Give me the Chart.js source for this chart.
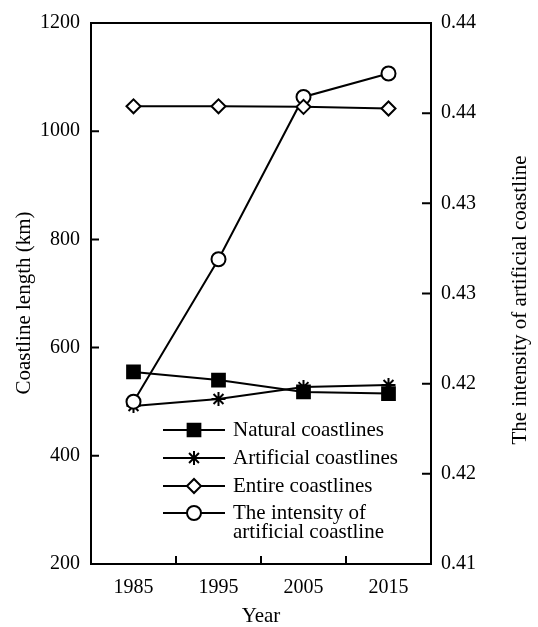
<!DOCTYPE html>
<html>
<head>
<meta charset="utf-8">
<script src="https://cdn.jsdelivr.net/npm/chart.js@4/dist/chart.umd.min.js"></script>
<style>
  html, body { margin: 0; padding: 0; background: #fff; }
  #wrap { width: 538px; height: 627px; }
</style>
</head>
<body>
<div id="wrap"><canvas id="coastChart" width="538" height="627"></canvas></div>
<script>
// data
const years = ['1985', '1995', '2005', '2015'];
const naturalKm = [555, 540, 518, 515];
const artificialKm = [492, 505, 527, 531];
const entireKm = [1046, 1046, 1045, 1042];
const intensity = [0.4190, 0.4269, 0.4359, 0.4372];

const lengthMin = 200, lengthMax = 1200, lengthStep = 200;
const intensityMin = 0.41, intensityMax = 0.44, intensityStep = 0.005;

const legendLabels = [
    ['Natural coastlines'],
    ['Artificial coastlines'],
    ['Entire coastlines'],
    ['The intensity of', 'artificial coastline']
];

const serif = '"Liberation Serif", "Times New Roman", serif';
const tickFont = { family: serif, size: 20 };
const textFont = '21px ' + serif;

function verticalText(ctx, text, x, y) {
    ctx.save();
    ctx.translate(x, y);
    ctx.rotate(-Math.PI / 2);
    ctx.fillText(text, 0, 0);
    ctx.restore();
}

// frame, inward tick marks, axis titles and legend
const decorPlugin = {
    id: 'decor',
    afterDraw(chart) {
        const ctx = chart.ctx;
        const a = chart.chartArea;
        const sx = chart.scales.x, sy = chart.scales.y, sy1 = chart.scales.y1;
        ctx.save();
        ctx.strokeStyle = '#000';
        ctx.lineWidth = 2;
        ctx.strokeRect(a.left, a.top, a.right - a.left, a.bottom - a.top);

        ctx.beginPath();
        sy.ticks.forEach(t => {
            const py = sy.getPixelForValue(t.value);
            ctx.moveTo(a.left, py);
            ctx.lineTo(a.left + 8, py);
        });
        sy1.ticks.forEach(t => {
            const py = sy1.getPixelForValue(t.value);
            ctx.moveTo(a.right, py);
            ctx.lineTo(a.right - 9, py);
        });
        for (let i = 0; i < years.length - 1; i++) {
            const px = (sx.getPixelForValue(i) + sx.getPixelForValue(i + 1)) / 2;
            ctx.moveTo(px, a.bottom);
            ctx.lineTo(px, a.bottom - 8);
        }
        ctx.stroke();

        // titles
        ctx.fillStyle = '#000';
        ctx.font = textFont;
        ctx.textAlign = 'center';
        ctx.textBaseline = 'middle';
        verticalText(ctx, 'Coastline length (km)', 24, 303);
        verticalText(ctx, 'The intensity of artificial coastline', 520, 300);
        ctx.fillText('Year', (a.left + a.right) / 2, 616);

        // legend inside the plot
        const rowY = [430, 458, 486, 513];
        ctx.textAlign = 'left';
        chart.data.datasets.forEach((ds, i) => {
            const y = rowY[i];
            ctx.strokeStyle = '#000';
            ctx.lineWidth = 2;
            ctx.beginPath();
            ctx.moveTo(163, y);
            ctx.lineTo(225, y);
            ctx.stroke();
            ctx.fillStyle = ds.pointBackgroundColor;
            Chart.helpers.drawPoint(ctx, {
                pointStyle: ds.pointStyle,
                radius: ds.pointRadius,
                borderWidth: ds.pointBorderWidth,
                rotation: 0
            }, 194, y);
            ctx.fillStyle = '#000';
            legendLabels[i].forEach((line, k) => {
                ctx.fillText(line, 233, y + k * 19);
            });
        });
        ctx.restore();
    }
};

function series(label, data, axis, style, radius, fill, order) {
    return {
        label: label,
        data: data,
        yAxisID: axis,
        borderColor: '#000',
        borderWidth: 2,
        pointStyle: style,
        pointRadius: radius,
        pointHoverRadius: radius,
        pointBorderWidth: 2,
        pointBorderColor: '#000',
        pointBackgroundColor: fill,
        tension: 0,
        order: order
    };
}

new Chart(document.getElementById('coastChart'), {
    type: 'line',
    data: {
        labels: years,
        datasets: [
            series('Natural coastlines', naturalKm, 'y', 'rect', 9, '#000', 1),
            series('Artificial coastlines', artificialKm, 'y', 'star', 7, '#000', 3),
            series('Entire coastlines', entireKm, 'y', 'rectRot', 7, '#fff', 0),
            series('The intensity of artificial coastline', intensity, 'y1', 'circle', 7, '#fff', 2)
        ]
    },
    options: {
        responsive: false,
        animation: false,
        devicePixelRatio: 1,
        layout: { padding: { top: 15, left: 0, right: 0, bottom: 0 } },
        plugins: {
            legend: { display: false },
            tooltip: { enabled: false }
        },
        scales: {
            x: {
                type: 'category',
                offset: true,
                grid: { offset: true, drawOnChartArea: false, drawTicks: false },
                border: { display: false },
                ticks: { color: '#000', font: tickFont, padding: 12, maxRotation: 0 },
                afterFit(scale) { scale.height = 63; }
            },
            y: {
                position: 'left',
                min: lengthMin,
                max: lengthMax,
                grid: { drawOnChartArea: false, drawTicks: false },
                border: { display: false },
                ticks: { stepSize: lengthStep, color: '#000', font: tickFont, padding: 11, callback: v => String(v) },
                afterFit(scale) { scale.width = 91; }
            },
            y1: {
                position: 'right',
                min: intensityMin,
                max: intensityMax,
                grid: { drawOnChartArea: false, drawTicks: false },
                border: { display: false },
                ticks: {
                    stepSize: intensityStep,
                    color: '#000',
                    font: tickFont,
                    padding: 10,
                    callback: v => (Math.round(Math.round(v * 1000) / 10) / 100).toFixed(2)
                },
                afterFit(scale) { scale.width = 107; }
            }
        }
    },
    plugins: [decorPlugin]
});
</script>
</body>
</html>
